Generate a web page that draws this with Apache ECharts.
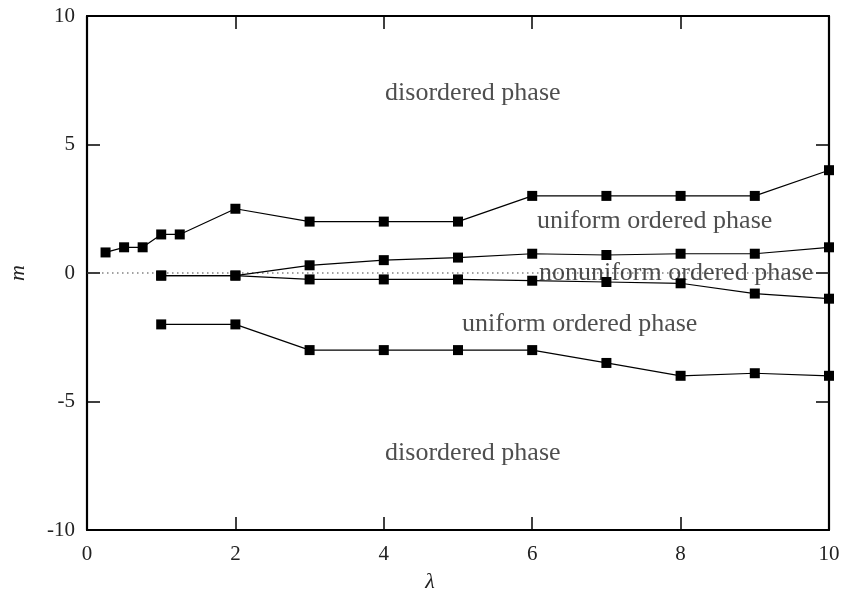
<!DOCTYPE html>
<html>
<head>
<meta charset="utf-8">
<script src="https://cdn.jsdelivr.net/npm/echarts@6/dist/echarts.min.js"></script>
<style>
  html, body { margin: 0; padding: 0; background: #fff; }
  #chart { width: 844px; height: 592px; }
</style>
</head>
<body>
<div id="chart"></div>
<script>
// Phase boundaries in the (lambda, m) plane
const lambdaUpper = [0.25, 0.5, 0.75, 1, 1.25, 2, 3, 4, 5, 6, 7, 8, 9, 10];
const mUpper      = [0.8, 1, 1, 1.5, 1.5, 2.5, 2, 2, 2, 3, 3, 3, 3, 4];

const lambdaMidHigh = [1, 2, 3, 4, 5, 6, 7, 8, 9, 10];
const mMidHigh      = [-0.1, -0.1, 0.3, 0.5, 0.6, 0.75, 0.7, 0.75, 0.75, 1];

const lambdaMidLow = [1, 2, 3, 4, 5, 6, 7, 8, 9, 10];
const mMidLow      = [-0.1, -0.1, -0.25, -0.25, -0.25, -0.3, -0.35, -0.4, -0.8, -1];

const lambdaLower = [1, 2, 3, 4, 5, 6, 7, 8, 9, 10];
const mLower      = [-2, -2, -3, -3, -3, -3, -3.5, -4, -3.9, -4];

// Region names and where they sit
const phaseNames  = ['disordered phase', 'uniform ordered phase', 'nonuniform ordered phase',
                     'uniform ordered phase', 'disordered phase'];
const phaseLambda = [5.2, 7.65, 7.94, 6.64, 5.2];
const phaseM      = [7, 2, 0, -2, -7];

// Axis ticks
const xTicks = [0, 2, 4, 6, 8, 10];
const yTicks = [-10, -5, 0, 5, 10];

const pairs = (xs, ys) => xs.map((x, i) => [x, ys[i]]);

const serif = '"Liberation Serif", "Times New Roman", serif';
const textColor = '#222';

function boundary(xs, ys) {
  return {
    type: 'line',
    xAxisIndex: 0, yAxisIndex: 0,
    data: pairs(xs, ys),
    symbol: 'rect',
    symbolSize: 10,
    clip: false,
    itemStyle: { color: '#000' },
    lineStyle: { color: '#000', width: 1.2 },
    z: 5,
    animation: false
  };
}

const frame = { show: true, onZero: false, lineStyle: { color: '#000', width: 2.2 } };
const inTicks = { show: true, inside: true, length: 13, lineStyle: { color: '#000', width: 1.5 } };

const chart = echarts.init(document.getElementById('chart'), null, { renderer: 'canvas' });
chart.setOption({
  backgroundColor: '#fff',
  animation: false,
  grid: { left: 87, right: 15, top: 16, bottom: 62, containLabel: false, outerBoundsMode: 'none' },
  xAxis: [
    {
      type: 'value', position: 'bottom',
      min: xTicks[0], max: xTicks[xTicks.length - 1], interval: 2,
      axisLine: frame, axisTick: inTicks,
      splitLine: { show: false },
      axisLabel: { margin: 14, fontFamily: serif, fontSize: 21, color: textColor },
      name: 'λ', nameLocation: 'middle', nameGap: 41,
      nameTextStyle: { fontFamily: serif, fontStyle: 'italic', fontSize: 22, color: textColor,
                       padding: [0, 56, 0, 0] }
    },
    {
      type: 'value', position: 'top',
      min: xTicks[0], max: xTicks[xTicks.length - 1], interval: 2,
      axisLine: frame, axisTick: inTicks,
      splitLine: { show: false }, axisLabel: { show: false }
    }
  ],
  yAxis: [
    {
      type: 'value', position: 'left',
      min: yTicks[0], max: yTicks[yTicks.length - 1], interval: 5,
      axisLine: frame, axisTick: inTicks,
      splitLine: { show: false },
      axisLabel: { margin: 12, fontFamily: serif, fontSize: 21, color: textColor },
      name: 'm', nameLocation: 'middle', nameGap: 58, nameRotate: 90,
      nameTextStyle: { fontFamily: serif, fontStyle: 'italic', fontSize: 22, color: textColor }
    },
    {
      type: 'value', position: 'right',
      min: yTicks[0], max: yTicks[yTicks.length - 1], interval: 5,
      axisLine: frame, axisTick: inTicks,
      splitLine: { show: false }, axisLabel: { show: false }
    }
  ],
  series: [
    {
      // dotted m = 0 reference line
      type: 'line',
      data: [[xTicks[0], 0], [xTicks[xTicks.length - 1], 0]],
      symbol: 'none',
      lineStyle: { color: '#444', width: 1.2, type: [1.5, 3.5] },
      z: 2, animation: false
    },
    {
      // region names
      type: 'scatter',
      data: phaseLambda.map((x, i) => ({ value: [x, phaseM[i]], name: phaseNames[i] })),
      symbolSize: 0,
      clip: false,
      label: {
        show: true, position: 'inside',
        formatter: p => p.name,
        fontFamily: serif, fontSize: 26, color: textColor
      },
      z: 3, silent: true, animation: false
    },
    boundary(lambdaUpper, mUpper),
    boundary(lambdaMidHigh, mMidHigh),
    boundary(lambdaMidLow, mMidLow),
    boundary(lambdaLower, mLower)
  ]
});
</script>
</body>
</html>
